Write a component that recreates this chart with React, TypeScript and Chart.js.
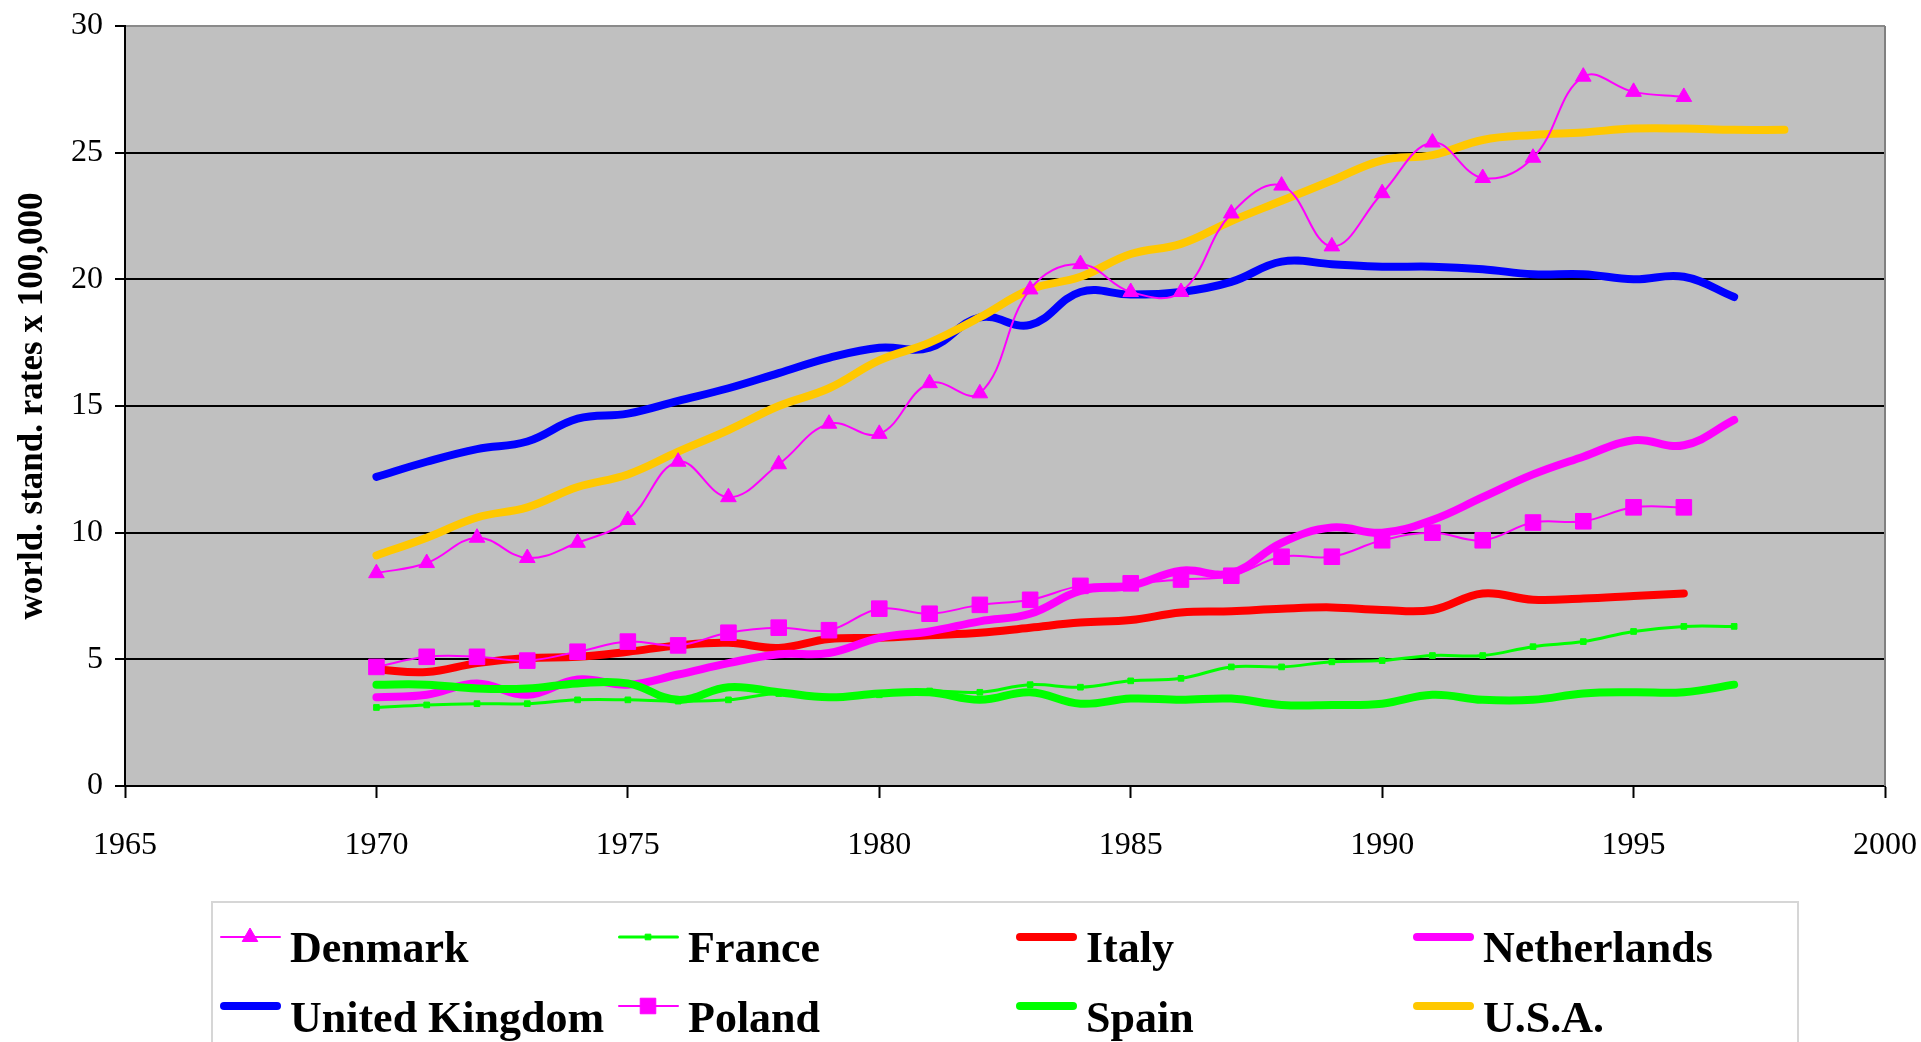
import React, { useEffect, useRef } from "react";
import { Chart, registerables } from "chart.js";

Chart.register(...registerables);

// ---- data ----
const years = [1970, 1971, 1972, 1973, 1974, 1975, 1976, 1977, 1978, 1979, 1980, 1981, 1982, 1983, 1984, 1985, 1986, 1987, 1988, 1989, 1990, 1991, 1992, 1993, 1994, 1995, 1996, 1997, 1998];

const denmark = [8.4, 8.8, 9.8, 9.0, 9.6, 10.5, 12.8, 11.4, 12.7, 14.3, 13.9, 15.9, 15.5, 19.6, 20.6, 19.5, 19.5, 22.6, 23.7, 21.3, 23.4, 25.4, 24.0, 24.8, 28.0, 27.4, 27.2];
const france = [3.1, 3.2, 3.25, 3.25, 3.4, 3.4, 3.35, 3.4, 3.65, 3.5, 3.6, 3.75, 3.7, 4.0, 3.9, 4.15, 4.25, 4.7, 4.7, 4.9, 4.95, 5.15, 5.15, 5.5, 5.7, 6.1, 6.3, 6.3];
const italy = [4.6, 4.5, 4.85, 5.05, 5.1, 5.3, 5.55, 5.65, 5.45, 5.8, 5.85, 5.95, 6.05, 6.25, 6.45, 6.55, 6.85, 6.9, 7.0, 7.05, 6.95, 6.95, 7.6, 7.35, 7.4, 7.5, 7.6];
const netherlands = [3.5, 3.6, 4.05, 3.6, 4.2, 4.0, 4.4, 4.85, 5.2, 5.25, 5.85, 6.1, 6.5, 6.8, 7.7, 7.9, 8.5, 8.4, 9.6, 10.2, 10.0, 10.5, 11.4, 12.3, 13.0, 13.65, 13.45, 14.45];
const unitedKingdom = [12.2, 12.8, 13.3, 13.6, 14.5, 14.7, 15.2, 15.7, 16.3, 16.9, 17.3, 17.3, 18.5, 18.2, 19.5, 19.4, 19.5, 19.9, 20.7, 20.6, 20.5, 20.5, 20.4, 20.2, 20.2, 20.0, 20.1, 19.3];
const poland = [4.7, 5.1, 5.1, 4.95, 5.3, 5.7, 5.55, 6.05, 6.25, 6.15, 7.0, 6.8, 7.15, 7.35, 7.9, 8.0, 8.15, 8.3, 9.05, 9.05, 9.7, 10.0, 9.7, 10.4, 10.45, 11.0, 11.0];
const spain = [4.0, 4.0, 3.85, 3.85, 4.05, 4.05, 3.4, 3.9, 3.7, 3.5, 3.65, 3.7, 3.4, 3.7, 3.25, 3.45, 3.4, 3.45, 3.2, 3.2, 3.25, 3.6, 3.4, 3.4, 3.65, 3.7, 3.7, 4.0];
const usa = [9.1, 9.8, 10.6, 11.0, 11.8, 12.3, 13.2, 14.05, 15.0, 15.7, 16.8, 17.5, 18.5, 19.6, 20.1, 21.0, 21.4, 22.3, 23.1, 23.9, 24.7, 24.9, 25.5, 25.7, 25.8, 25.95, 25.95, 25.9, 25.9];

const xTicks = [1965, 1970, 1975, 1980, 1985, 1990, 1995, 2000];
const yTicks = [0, 5, 10, 15, 20, 25, 30];

const yTitle = "world. stand. rates x 100,000";

const MAGENTA = "#FF00FF";
const GREEN = "#00FF00";
const RED = "#FF0000";
const BLUE = "#0000FF";
const GOLD = "#FFC800";

const FONT = "'Liberation Serif', 'Times New Roman', serif";

function pts(vals: number[]) {
  return vals.map((v, i) => ({ x: years[i], y: v }));
}

// legend layout
const LEGEND_COLS = [220, 618, 1016, 1413];
const LEGEND_LINE_Y = [937, 1006];
const LEGEND_BASE_Y = [962, 1032];

const bgPlugin = {
  id: "plotBg",
  beforeDraw(chart: any) {
    const { ctx, chartArea } = chart;
    ctx.save();
    ctx.fillStyle = "#ffffff";
    ctx.fillRect(0, 0, chart.width, chart.height);
    ctx.fillStyle = "#C0C0C0";
    ctx.fillRect(chartArea.left, chartArea.top, chartArea.right - chartArea.left, chartArea.bottom - chartArea.top);
    ctx.restore();
  },
  beforeDatasetsDraw(chart: any) {
    const { ctx, chartArea } = chart;
    ctx.save();
    ctx.strokeStyle = "#808080";
    ctx.lineWidth = 2;
    ctx.beginPath();
    ctx.moveTo(chartArea.right, chartArea.top);
    ctx.lineTo(chartArea.right, chartArea.bottom);
    ctx.stroke();
    ctx.restore();
  },
};

function drawMarker(ctx: CanvasRenderingContext2D, style: string, x: number, y: number, r: number, color: string) {
  ctx.save();
  ctx.fillStyle = color;
  ctx.strokeStyle = color;
  ctx.lineWidth = 1;
  ctx.beginPath();
  if (style === "triangle") {
    const w = r * Math.sin(Math.PI / 3);
    ctx.moveTo(x, y - r);
    ctx.lineTo(x + w, y + r / 2);
    ctx.lineTo(x - w, y + r / 2);
    ctx.closePath();
  } else {
    const s = r * Math.SQRT1_2;
    ctx.rect(x - s, y - s, 2 * s, 2 * s);
  }
  ctx.fill();
  ctx.stroke();
  ctx.restore();
}

const legendPlugin = {
  id: "customLegend",
  afterDraw(chart: any) {
    const ctx: CanvasRenderingContext2D = chart.ctx;
    ctx.save();
    ctx.strokeStyle = "#d6d6d6";
    ctx.lineWidth = 2;
    ctx.strokeRect(212, 902, 1586, 170);
    ctx.font = `bold 44px ${FONT}`;
    ctx.fillStyle = "#000";
    ctx.textBaseline = "alphabetic";
    ctx.textAlign = "left";
    chart.data.datasets.forEach((ds: any, i: number) => {
      const col = i % 4;
      const row = Math.floor(i / 4);
      const x0 = LEGEND_COLS[col];
      const ly = LEGEND_LINE_Y[row];
      ctx.save();
      ctx.strokeStyle = ds.borderColor;
      ctx.lineWidth = ds.borderWidth;
      ctx.lineCap = "round";
      ctx.beginPath();
      ctx.moveTo(x0 + ds.borderWidth / 2, ly);
      ctx.lineTo(x0 + 61 - ds.borderWidth / 2, ly);
      ctx.stroke();
      ctx.restore();
      if (ds.pointRadius > 0) {
        drawMarker(ctx, ds.pointStyle, x0 + 30, ly, ds.pointRadius, ds.borderColor);
      }
      ctx.fillStyle = "#000";
      ctx.fillText(ds.label, x0 + 70, LEGEND_BASE_Y[row]);
    });
    ctx.restore();
  },
};

export default function App() {
  const canvasRef = useRef<HTMLCanvasElement | null>(null);

  useEffect(() => {
    const canvas = canvasRef.current;
    if (!canvas) return;

    const thick = 8;
    const thin = 2;

    const mk = (label: string, vals: number[], color: string, width: number, order: number, pointStyle = "circle", pointRadius = 0) => ({
      label,
      data: pts(vals),
      borderColor: color,
      backgroundColor: color,
      borderWidth: width,
      tension: 0.4,
      pointStyle,
      pointRadius,
      pointHoverRadius: pointRadius,
      pointBackgroundColor: color,
      pointBorderColor: color,
      pointBorderWidth: 1,
      borderCapStyle: "round",
      borderJoinStyle: "round",
      order,
      fill: false,
    });

    const chart = new Chart(canvas, {
      type: "line",
      data: {
        datasets: [
          mk("Denmark", denmark, MAGENTA, thin, 0, "triangle", 9),
          mk("France", france, GREEN, 3, 4, "rect", 4),
          mk("Italy", italy, RED, thick, 7),
          mk("Netherlands", netherlands, MAGENTA, thick, 6),
          mk("United Kingdom", unitedKingdom, BLUE, thick, 5),
          mk("Poland", poland, MAGENTA, thin, 1, "rect", 11),
          mk("Spain", spain, GREEN, thick, 3),
          mk("U.S.A.", usa, GOLD, thick, 2),
        ] as any,
      },
      options: {
        animation: false,
        responsive: false,
        maintainAspectRatio: false,
        layout: { padding: { top: 26, right: 36, left: 0, bottom: 0 } },
        plugins: {
          legend: { display: false },
          tooltip: { enabled: false },
        },
        scales: {
          x: {
            type: "linear",
            min: xTicks[0],
            max: xTicks[xTicks.length - 1],
            afterBuildTicks: (s: any) => {
              s.ticks = xTicks.map((v) => ({ value: v }));
            },
            afterFit: (s: any) => {
              s.height = 256;
              s.paddingLeft = 0;
              s.paddingRight = 0;
            },
            ticks: {
              font: { family: FONT, size: 32 },
              color: "#000",
              padding: 28,
              maxRotation: 0,
              autoSkip: false,
              callback: (v: any) => String(v),
            },
            grid: {
              drawOnChartArea: false,
              drawTicks: true,
              tickLength: 12,
              tickColor: "#000",
              tickWidth: 2,
              color: "#000",
            },
            border: { display: true, color: "#000", width: 2 },
          },
          y: {
            type: "linear",
            min: yTicks[0],
            max: yTicks[yTicks.length - 1],
            afterBuildTicks: (s: any) => {
              s.ticks = yTicks.map((v) => ({ value: v }));
            },
            afterFit: (s: any) => {
              s.width = 125;
              s.paddingTop = 0;
              s.paddingBottom = 0;
            },
            ticks: {
              font: { family: FONT, size: 32 },
              color: "#000",
              padding: 12,
              callback: (v: any) => String(v),
            },
            grid: {
              color: (c: any) => (c.tick && c.tick.value === 30 ? "#8a8a8a" : "#000"),
              lineWidth: 2,
              drawTicks: true,
              tickLength: 10,
              tickColor: "#000",
              tickWidth: 2,
            },
            border: { display: true, color: "#000", width: 2 },
            title: {
              display: true,
              text: yTitle,
              color: "#000",
              font: { family: FONT, size: 35, weight: "bold" },
              padding: { top: 12, bottom: 0 },
            },
          },
        },
      } as any,
      plugins: [bgPlugin, legendPlugin],
    });

    return () => {
      chart.destroy();
    };
  }, []);

  return (
    <div style={{ position: "fixed", left: 0, top: 0, width: 1921, height: 1042, background: "#fff" }}>
      <canvas ref={canvasRef} width={1921} height={1042} style={{ display: "block", width: 1921, height: 1042 }} />
    </div>
  );
}
